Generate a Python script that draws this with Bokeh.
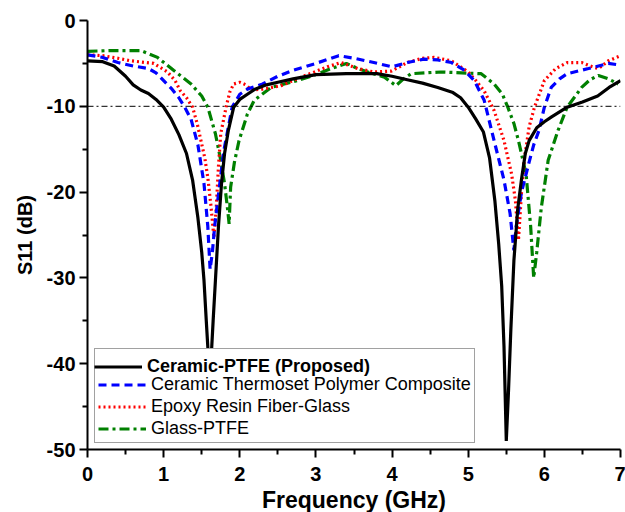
from bokeh.plotting import figure
from bokeh.models import (Legend, LegendItem, Span, FixedTicker, Range1d)
from bokeh.embed import file_html
from bokeh.resources import INLINE

# ---------------- data ----------------
black_f = [0, 0.2, 0.35, 0.5, 0.6, 0.7, 0.8, 0.9, 1.0, 1.1, 1.2, 1.3, 1.38, 1.45, 1.5,
           1.53, 1.56, 1.58, 1.6, 1.62, 1.65, 1.68, 1.72, 1.76, 1.8, 1.85, 1.92, 2.0, 2.1,
           2.2, 2.35, 2.5, 2.7, 3.0, 3.4, 3.8, 4.0, 4.2, 4.4, 4.6, 4.8, 4.9, 5.0, 5.1, 5.2,
           5.28, 5.35, 5.4, 5.44, 5.47, 5.5, 5.53, 5.56, 5.6, 5.65, 5.7, 5.75, 5.8, 5.9,
           6.0, 6.1, 6.3, 6.5, 6.7, 6.85, 7.0]
black_s = [-4.7, -4.8, -5.3, -6.5, -7.5, -8.1, -8.5, -9.2, -10.1, -11.5, -13.3, -15.5, -18.6,
           -23, -27, -30.3, -35, -38, -42, -40, -35, -30.3, -24, -19, -15.5, -12.8, -10.1,
           -9.2, -8.6, -8.0, -7.5, -7.2, -6.8, -6.3, -6.2, -6.2, -6.5, -6.9, -7.3, -7.8, -8.4,
           -9.0, -10.1, -11.5, -13, -16, -21, -26, -31, -38, -49, -43, -36, -28, -22, -18.5,
           -15.5, -14, -12.5, -11.8, -11.2, -10.1, -9.5, -8.8, -7.8, -7.0]

blue_f = [0, 0.2, 0.4, 0.6, 0.8, 0.9, 1.0, 1.1, 1.2, 1.27, 1.36, 1.45, 1.53, 1.58, 1.61, 1.64,
          1.67, 1.71, 1.79, 1.9, 2.0, 2.1, 2.3, 2.5, 2.7, 3.0, 3.3, 3.5, 3.76, 4.0, 4.2, 4.42,
          4.6, 4.78, 4.95, 5.08, 5.21, 5.34, 5.47, 5.55, 5.6, 5.63, 5.7, 5.8, 5.86, 5.93, 6.0,
          6.09, 6.2, 6.3, 6.58, 6.84, 7.0]
blue_s = [-4.0, -4.3, -4.9, -5.3, -5.6, -6.1, -7.0, -7.9, -9.0, -10.0, -11.5, -14.5, -19, -24,
          -29, -27, -24, -21, -15.2, -10.1, -8.6, -8.0, -7.4, -6.5, -5.8, -5.0, -4.1, -4.4,
          -4.9, -5.4, -4.9, -4.5, -4.6, -4.9, -5.8, -7.0, -9.3, -14, -18.6, -22.5, -26.8, -24,
          -20, -16.5, -14.5, -12.8, -10.1, -7.8, -6.8, -6.2, -5.6, -5.0, -5.2]

red_f = [0, 0.2, 0.4, 0.57, 0.87, 1.05, 1.15, 1.22, 1.3, 1.38, 1.44, 1.49, 1.54, 1.58, 1.62,
         1.66, 1.69, 1.72, 1.75, 1.82, 1.87, 1.92, 2.0, 2.08, 2.15, 2.3, 2.54, 2.75, 2.98,
         3.15, 3.33, 3.55, 3.76, 3.99, 4.2, 4.4, 4.55, 4.78, 5.0, 5.1, 5.21, 5.34, 5.47, 5.57,
         5.62, 5.66, 5.7, 5.74, 5.8, 5.87, 6.0, 6.15, 6.3, 6.49, 6.6, 6.71, 6.84, 7.0]
red_s = [-4.0, -4.1, -4.4, -4.7, -5.0, -6.0, -7.0, -8.2, -9.0, -10.1, -12, -14, -16, -18.3,
         -21.5, -25.3, -22, -17, -13.2, -10.1, -8.3, -7.4, -7.2, -7.5, -8.1, -8.0, -7.6, -6.8,
         -6.0, -5.4, -4.9, -5.6, -6.0, -5.9, -4.9, -4.4, -4.3, -4.7, -6.0, -7.0, -8.2, -10.5,
         -14, -17.9, -21, -25.6, -20, -16, -12.4, -10.1, -7.0, -5.6, -4.9, -4.9, -5.3, -5.6,
         -4.7, -4.1]

green_f = [0, 0.3, 0.7, 0.92, 1.13, 1.36, 1.5, 1.58, 1.68, 1.75, 1.8, 1.84, 1.86, 1.87, 1.88,
           1.93, 1.99, 2.1, 2.19, 2.41, 2.76, 3.0, 3.2, 3.4, 3.55, 3.75, 3.9, 4.05, 4.15, 4.25,
           4.64, 5.17, 5.34, 5.45, 5.52, 5.6, 5.66, 5.76, 5.82, 5.86, 5.9, 5.96, 6.05, 6.18,
           6.3, 6.49, 6.6, 6.71, 6.84, 6.97]
green_s = [-3.6, -3.5, -3.5, -4.3, -5.8, -7.4, -8.8, -10.1, -13.2, -16.3, -19, -22, -23.7,
           -21.5, -19.4, -16.5, -14, -10.9, -9.3, -7.8, -7.0, -6.3, -5.6, -5.0, -5.6, -6.2,
           -6.6, -7.6, -6.8, -6.2, -6.0, -6.2, -7.4, -8.6, -10.1, -12, -14, -17.9, -24, -30,
           -27, -21.8, -16.3, -12.8, -10.1, -7.8, -6.9, -6.4, -6.8, -7.4]

series_names = ["Ceramic-PTFE (Proposed)", "Ceramic Thermoset Polymer Composite",
                "Epoxy Resin Fiber-Glass", "Glass-PTFE"]
x_ticks = [0, 1, 2, 3, 4, 5, 6, 7]
y_ticks = [-50, -40, -30, -20, -10, 0]
threshold = -10

FONT = "Liberation Sans"

p = figure(width=625, height=512, output_backend="svg", toolbar_location=None,
           x_range=Range1d(0, 7), y_range=Range1d(-50, 0),
           min_border_left=87, min_border_right=5, min_border_top=20, min_border_bottom=63,
           frame_width=533, frame_height=429)
p.outline_line_color = None
p.xgrid.visible = False
p.ygrid.visible = False
p.background_fill_color = "white"
p.border_fill_color = "white"

thr = Span(location=threshold, dimension="width", line_color="black", line_width=1,
           line_dash="6 3 2 3")
p.add_layout(thr)

r_green = p.line(green_f, green_s, line_color="#008000", line_width=3.2, line_dash="10 4 3 4")
r_red = p.line(red_f, red_s, line_color="#ff0000", line_width=3.2, line_dash="2 3")
r_blue = p.line(blue_f, blue_s, line_color="#0000ff", line_width=3.2, line_dash="8 5")
r_black = p.line(black_f, black_s, line_color="black", line_width=3.2)
# invisible renderer used only for empty legend rows
r_blank = p.line([], [], line_alpha=0)

for ax in (p.xaxis[0], p.yaxis[0]):
    ax.axis_line_width = 2
    ax.major_tick_line_width = 2
    ax.minor_tick_line_width = 2
    ax.major_tick_out = 8
    ax.major_tick_in = 0
    ax.minor_tick_out = 5
    ax.minor_tick_in = 0
    ax.major_label_text_font = FONT
    ax.major_label_text_font_style = "bold"
    ax.major_label_text_font_size = "20px"
    ax.major_label_text_color = "black"
    ax.axis_label_text_font = FONT
    ax.axis_label_text_font_style = "bold"
    ax.axis_label_text_color = "black"

p.xaxis.ticker = FixedTicker(ticks=x_ticks, minor_ticks=[i + 0.5 for i in range(7)])
p.yaxis.ticker = FixedTicker(ticks=y_ticks, minor_ticks=[t + 5 for t in y_ticks[:-1]])
p.yaxis.major_label_overrides = {t: str(t) for t in y_ticks}
p.xaxis.axis_label = "Frequency (GHz)"
p.yaxis.axis_label = "S11 (dB)"
p.xaxis.axis_label_text_font_size = "23px"
p.yaxis.axis_label_text_font_size = "20px"
p.xaxis.major_label_standoff = 9
p.yaxis.major_label_standoff = 4
p.xaxis.axis_label_standoff = 3
p.yaxis.axis_label_standoff = 8

common = dict(location=(7, 6), label_text_font=FONT, label_text_font_size="18px",
              label_text_color="black",
              glyph_width=48, glyph_height=21, label_height=21, spacing=1, padding=3,
              margin=0, label_standoff=5)

leg_b = Legend(items=[LegendItem(label=" ", renderers=[r_blank]),
                      LegendItem(label=series_names[1], renderers=[r_blue]),
                      LegendItem(label=series_names[2], renderers=[r_red]),
                      LegendItem(label=series_names[3], renderers=[r_green])],
               border_line_color="#444444", border_line_width=1,
               background_fill_color="white", background_fill_alpha=1,
               level="underlay", **common)
p.add_layout(leg_b)

leg_a = Legend(items=[LegendItem(label=series_names[0], renderers=[r_black]),
                      LegendItem(label=" ", renderers=[r_blank]),
                      LegendItem(label="  ", renderers=[r_blank]),
                      LegendItem(label="   ", renderers=[r_blank])],
               border_line_color=None, background_fill_alpha=0,
               label_text_font_style="bold", level="underlay", **common)
p.add_layout(leg_a)

open("out.html", "w").write(file_html(p, INLINE))
